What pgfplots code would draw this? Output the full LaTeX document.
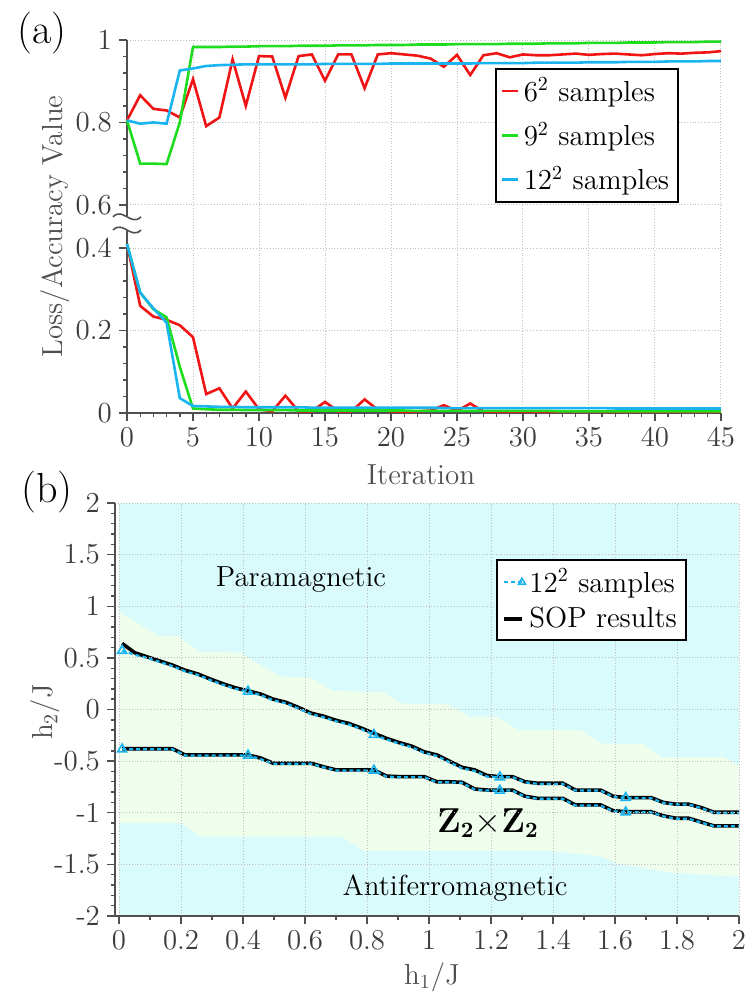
\documentclass[border=0pt]{standalone}
\usepackage{pgfplots}
\pgfplotsset{compat=1.18}
\usepackage{pgfplotstable}

\definecolor{cRed}{RGB}{240,20,20}
\definecolor{cGreen}{RGB}{30,220,30}
\definecolor{cBlue}{RGB}{25,180,240}
\definecolor{bgCyan}{RGB}{218,251,252}
\definecolor{bgGreen}{RGB}{239,253,236}
\definecolor{tickgray}{RGB}{60,60,60}
\definecolor{axgray}{RGB}{80,80,80}
\newcommand{\fs}{\fontsize{14.5}{17.4}\selectfont}

\pgfplotstableread{
it acc6 acc9 acc12 loss6 loss9 loss12
0 0.805 0.805 0.805 0.410 0.410 0.410
1 0.866 0.700 0.797 0.260 0.292 0.292
2 0.833 0.700 0.800 0.234 0.252 0.254
3 0.829 0.699 0.797 0.226 0.232 0.219
4 0.812 0.800 0.926 0.213 0.112 0.036
5 0.905 0.983 0.931 0.184 0.011 0.017
6 0.791 0.983 0.937 0.046 0.009 0.016
7 0.812 0.983 0.939 0.060 0.008 0.015
8 0.953 0.984 0.940 0.011 0.008 0.015
9 0.840 0.984 0.941 0.052 0.007 0.014
10 0.961 0.985 0.941 0.009 0.007 0.014
11 0.960 0.985 0.941 0.004 0.007 0.014
12 0.860 0.985 0.941 0.042 0.007 0.014
13 0.961 0.986 0.941 0.004 0.006 0.014
14 0.965 0.986 0.941 0.004 0.006 0.013
15 0.901 0.986 0.942 0.027 0.006 0.013
16 0.965 0.987 0.942 0.004 0.006 0.013
17 0.965 0.987 0.942 0.004 0.006 0.013
18 0.883 0.987 0.942 0.033 0.006 0.013
19 0.965 0.988 0.942 0.008 0.006 0.013
20 0.968 0.988 0.943 0.004 0.006 0.013
21 0.965 0.988 0.943 0.003 0.006 0.013
22 0.962 0.989 0.943 0.004 0.005 0.013
23 0.955 0.989 0.943 0.006 0.005 0.013
24 0.935 0.989 0.943 0.019 0.005 0.012
25 0.964 0.990 0.943 0.005 0.005 0.012
26 0.915 0.990 0.943 0.023 0.005 0.012
27 0.963 0.990 0.944 0.004 0.005 0.012
28 0.968 0.990 0.944 0.003 0.005 0.012
29 0.958 0.991 0.944 0.003 0.005 0.012
30 0.965 0.991 0.944 0.003 0.005 0.012
31 0.963 0.991 0.945 0.003 0.005 0.012
32 0.963 0.992 0.945 0.003 0.005 0.012
33 0.965 0.992 0.945 0.003 0.004 0.012
34 0.967 0.992 0.945 0.003 0.004 0.012
35 0.964 0.993 0.946 0.003 0.004 0.012
36 0.966 0.993 0.946 0.003 0.004 0.012
37 0.967 0.993 0.946 0.003 0.004 0.011
38 0.965 0.994 0.947 0.003 0.004 0.011
39 0.963 0.994 0.947 0.003 0.004 0.011
40 0.966 0.994 0.947 0.003 0.004 0.011
41 0.968 0.995 0.948 0.003 0.004 0.011
42 0.967 0.995 0.948 0.003 0.004 0.011
43 0.969 0.995 0.948 0.003 0.004 0.011
44 0.970 0.996 0.949 0.003 0.004 0.011
45 0.973 0.996 0.949 0.003 0.004 0.011
}\dataA

\pgfplotstableread{
h1 su mu sl ml
0.0100 0.640 0.570 -0.380 -0.385
0.0506 0.550 0.530 -0.380 -0.385
0.0912 0.510 0.500 -0.380 -0.385
0.1318 0.470 0.460 -0.380 -0.385
0.1724 0.430 0.420 -0.380 -0.385
0.2131 0.380 0.370 -0.440 -0.445
0.2537 0.345 0.335 -0.440 -0.445
0.2943 0.295 0.285 -0.440 -0.445
0.3349 0.250 0.240 -0.440 -0.445
0.3755 0.210 0.200 -0.440 -0.445
0.4161 0.180 0.174 -0.440 -0.445
0.4567 0.150 0.140 -0.470 -0.480
0.4973 0.100 0.090 -0.520 -0.525
0.5380 0.070 0.060 -0.520 -0.525
0.5786 0.020 0.010 -0.520 -0.525
0.6192 -0.035 -0.045 -0.520 -0.525
0.6598 -0.065 -0.075 -0.555 -0.560
0.7004 -0.105 -0.115 -0.585 -0.590
0.7410 -0.135 -0.145 -0.585 -0.590
0.7816 -0.180 -0.190 -0.585 -0.590
0.8222 -0.230 -0.245 -0.585 -0.590
0.8629 -0.280 -0.290 -0.645 -0.650
0.9035 -0.320 -0.330 -0.650 -0.655
0.9441 -0.355 -0.365 -0.650 -0.655
0.9847 -0.410 -0.420 -0.650 -0.655
1.0253 -0.440 -0.450 -0.700 -0.705
1.0659 -0.500 -0.510 -0.700 -0.705
1.1065 -0.560 -0.570 -0.705 -0.710
1.1471 -0.585 -0.595 -0.770 -0.775
1.1878 -0.640 -0.650 -0.780 -0.785
1.2284 -0.650 -0.655 -0.780 -0.785
1.2690 -0.650 -0.655 -0.780 -0.785
1.3096 -0.700 -0.705 -0.840 -0.845
1.3502 -0.714 -0.720 -0.860 -0.865
1.3908 -0.714 -0.720 -0.860 -0.865
1.4314 -0.714 -0.720 -0.860 -0.865
1.4720 -0.780 -0.785 -0.924 -0.930
1.5127 -0.780 -0.785 -0.924 -0.930
1.5533 -0.780 -0.785 -0.924 -0.930
1.5939 -0.840 -0.845 -0.980 -0.985
1.6345 -0.853 -0.855 -0.990 -0.995
1.6751 -0.853 -0.858 -0.990 -0.995
1.7157 -0.853 -0.858 -0.990 -0.995
1.7563 -0.900 -0.905 -1.030 -1.035
1.7969 -0.917 -0.920 -1.053 -1.058
1.8376 -0.917 -0.920 -1.053 -1.058
1.8782 -0.950 -0.955 -1.090 -1.095
1.9188 -0.995 -1.000 -1.127 -1.130
1.9594 -0.995 -1.000 -1.127 -1.130
2.0000 -0.995 -1.000 -1.127 -1.130
}\dataB

\pgfplotsset{
  myaxis/.style={
    scale only axis,
    axis x line*=bottom, axis y line*=left,
    axis line style={axgray, line width=1pt},
    tick align=outside,
    major tick length=4pt, minor tick length=2pt,
    tick style={axgray, line width=0.7pt},
    grid=major,
    grid style={densely dotted, gray!50, line width=0.5pt},
    tick label style={font=\fs, text=tickgray},
    label style={font=\fs, text=axgray},
    legend cell align=left,
  }
}

\begin{document}
\begin{tikzpicture}
% ---------------- panel (a)
\begin{axis}[myaxis, set layers,
  at={(63.5pt,-206.5pt)}, anchor=south west,
  width=297pt, height=186.5pt,
  xmin=0, xmax=45, ymin=0, ymax=0.905,
  clip=false,
  xtick={0,5,10,15,20,25,30,35,40,45}, minor x tick num=4,
  ytick={0,0.2,0.4,0.505,0.705,0.905},
  yticklabels={0,0.2,0.4,0.6,0.8,1},
  minor ytick={0.04,0.08,0.12,0.16,0.24,0.28,0.32,0.36,0.545,0.585,0.625,0.665,0.745,0.785,0.825,0.865},
  xlabel={Iteration}, ylabel={Loss/Accuracy Value},
  xlabel style={at={(axis description cs:0.495,-0.166)}, anchor=center},
  ylabel style={at={(axis description cs:-0.121,0.5)}, anchor=center},
  legend style={at={(0.62,0.925)}, anchor=north west, font=\fs, draw=black,
    line width=0.9pt, inner sep=2.5pt, row sep=5pt},
  legend image code/.code={\draw[#1] (0pt,0pt) -- (8pt,0pt);},
]
\addplot[cRed, line width=1.3pt] table[x=it, y expr=\thisrow{acc6}-0.095] {\dataA};
\addlegendentry{6$^2$ samples}
\addplot[cGreen, line width=1.3pt] table[x=it, y expr=\thisrow{acc9}-0.095] {\dataA};
\addlegendentry{9$^2$ samples}
\addplot[cBlue, line width=1.3pt] table[x=it, y expr=\thisrow{acc12}-0.095] {\dataA};
\addlegendentry{12$^2$ samples}
\addplot[cRed, line width=1.3pt, forget plot] table[x=it, y=loss6] {\dataA};
\addplot[cGreen, line width=1.3pt, forget plot] table[x=it, y=loss9] {\dataA};
\addplot[cBlue, line width=1.3pt, forget plot] table[x=it, y=loss12] {\dataA};
\begin{pgfonlayer}{axis foreground}
  \fill[white] ([xshift=-1.5pt]axis cs:0,0.442) rectangle ([xshift=1.5pt]axis cs:0,0.478);
  \draw[axgray, line width=0.8pt] ([xshift=-7pt]axis cs:0,0.476) .. controls ([xshift=-2pt,yshift=5pt]axis cs:0,0.476) and ([xshift=2pt,yshift=-5pt]axis cs:0,0.476) .. ([xshift=7pt]axis cs:0,0.476);
  \draw[axgray, line width=0.8pt] ([xshift=-7pt]axis cs:0,0.444) .. controls ([xshift=-2pt,yshift=5pt]axis cs:0,0.444) and ([xshift=2pt,yshift=-5pt]axis cs:0,0.444) .. ([xshift=7pt]axis cs:0,0.444);
\end{pgfonlayer}
\end{axis}

% ---------------- panel (b)
\begin{axis}[myaxis, axis on top,
  at={(57.5pt,-458pt)}, anchor=south west,
  width=312pt, height=206.5pt,
  xmin=-0.013, xmax=2, ymin=-2, ymax=2,
  xtick={0,0.2,0.4,0.6,0.8,1,1.2,1.4,1.6,1.8,2}, minor x tick num=1,
  ytick={-2,-1.5,-1,-0.5,0,0.5,1,1.5,2}, minor y tick num=4,
  yticklabels={-2,-1.5,-1,-0.5,0,0.5,1,1.5,2},
  xlabel={h$_1$/J}, ylabel={h$_2$/J},
  xlabel style={at={(axis description cs:0.508,-0.148)}, anchor=center},
  ylabel style={at={(axis description cs:-0.111,0.494)}, anchor=center},
  legend style={at={(0.611,0.864)}, anchor=north west, font=\fs, draw=black,
    line width=0.9pt, inner sep=2.5pt, row sep=2pt},
  legend image code/.code={\draw[mark repeat=2, mark phase=2, #1] plot coordinates {(0pt,0pt) (9pt,0pt)};},
]
\addplot[fill=bgCyan, draw=none, forget plot]
  coordinates {(0,-2) (2,-2) (2,2) (0,2) (0,-2)};
\addplot[fill=bgGreen, draw=none, forget plot]
  coordinates {(0,0.95) (0.13,0.71) (0.19,0.71) (0.26,0.56) (0.39,0.55) (0.52,0.32)
    (0.62,0.31) (0.69,0.18) (0.85,0.17) (0.91,0.06) (1.06,0.05) (1.13,-0.07)
    (1.22,-0.07) (1.29,-0.2) (1.49,-0.2) (1.56,-0.33) (1.69,-0.33) (1.75,-0.46)
    (1.95,-0.46) (2,-0.55)
    (2,-1.62) (1.78,-1.58) (1.62,-1.50) (1.55,-1.42) (1.39,-1.37) (0.79,-1.37)
    (0.72,-1.23) (0.26,-1.23) (0.20,-1.10) (0,-1.10) (0,0.95)};
\addplot[black, line width=1.8pt, forget plot] table[x=h1, y=su] {\dataB};
\addplot[black, line width=1.8pt, forget plot] table[x=h1, y=sl] {\dataB};
\addplot[cBlue, line width=1.1pt, dash pattern=on 2pt off 1.5pt, mark=triangle,
  mark size=2.6pt, mark options={solid, line width=0.8pt}, mark indices={1,11,21,31,41},
  forget plot] table[x=h1, y=mu] {\dataB};
\addplot[cBlue, line width=1.1pt, dash pattern=on 2pt off 1.5pt, mark=triangle,
  mark size=2.6pt, mark options={solid, line width=0.8pt}, mark indices={1,11,21,31,41},
  forget plot] table[x=h1, y=ml] {\dataB};
\addlegendimage{cBlue, line width=1pt, dash pattern=on 2pt off 1.5pt, mark=triangle,
  mark size=2pt, mark options={solid, line width=0.8pt}}
\addlegendentry{12$^2$ samples}
\addlegendimage{black, line width=1.8pt}
\addlegendentry{SOP results}
\node[font=\fs] at (axis cs:0.587,1.26) {Paramagnetic};
\node[font=\fs] at (axis cs:1.084,-1.73) {Antiferromagnetic};
\node[font=\fontsize{16}{19}\selectfont] at (axis cs:1.19,-1.10) {$\mathbf{Z}_{\mathbf{2}}{\times}\mathbf{Z}_{\mathbf{2}}$};
\end{axis}

\node[font=\fontsize{21}{25}\selectfont] at (21pt,-16.5pt) {(a)};
\node[font=\fontsize{21}{25}\selectfont] at (23.5pt,-246pt) {(b)};

\pgfresetboundingbox
\useasboundingbox (0,0) rectangle (375pt,-500.5pt);
\end{tikzpicture}
\end{document}
